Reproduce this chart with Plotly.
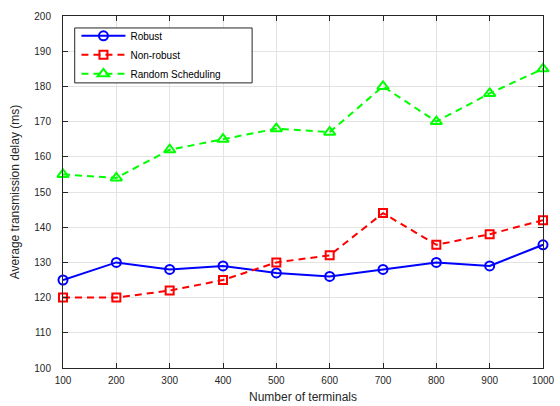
import plotly.graph_objects as go

terminals = [100, 200, 300, 400, 500, 600, 700, 800, 900, 1000]
robust = [125, 130, 128, 129, 127, 126, 128, 130, 129, 135]
non_robust = [120, 120, 122, 125, 130, 132, 144, 135, 138, 142]
random_sched = [155, 154, 162, 165, 168, 167, 180, 170, 178, 185]

FONT = "Liberation Sans, Arial, sans-serif"

fig = go.Figure()
fig.add_trace(go.Scatter(x=terminals, y=robust, name="Robust", mode="lines+markers", cliponaxis=False,
                         line=dict(color="#0000ff", width=2),
                         marker=dict(symbol="circle-open", size=9, color="#0000ff", line=dict(width=2))))
fig.add_trace(go.Scatter(x=terminals, y=non_robust, name="Non-robust", mode="lines+markers", cliponaxis=False,
                         line=dict(color="#ff0000", width=2, dash="7px,5px"),
                         marker=dict(symbol="square-open", size=8, color="#ff0000", line=dict(width=2))))
fig.add_trace(go.Scatter(x=terminals, y=random_sched, name="Random Scheduling", mode="lines+markers", cliponaxis=False,
                         line=dict(color="#00ff00", width=2, dash="7px,5px"),
                         marker=dict(symbol="triangle-up-open", size=10, color="#00ff00", line=dict(width=2))))

axis_common = dict(showline=True, linecolor="#262626", linewidth=1, mirror="ticks",
                   ticks="inside", ticklen=5, tickcolor="#262626",
                   showgrid=True, gridcolor="#e3e3e3", gridwidth=1, zeroline=False,
                   ticklabeloverflow="allow",
                   tickfont=dict(family=FONT, size=10, color="#262626"))

fig.add_shape(type="rect", xref="paper", yref="paper",
              x0=0.0244, x1=0.394, y0=0.81, y1=0.966,
              line=dict(color="#262626", width=1), fillcolor="white", layer="above")

fig.update_layout(
    width=560, height=406,
    margin=dict(l=63, r=5, t=16, b=38),
    paper_bgcolor="white", plot_bgcolor="white",
    font=dict(family=FONT, size=10, color="#262626"),
    xaxis=dict(range=[100, 1000], tickmode="array", tickvals=terminals, ticklabelstandoff=3,
               title=dict(text="Number of terminals", standoff=7, font=dict(size=12)), **axis_common),
    yaxis=dict(range=[100, 200], tickmode="linear", tick0=100, dtick=10, ticklabelstandoff=9,
               title=dict(text="Average transmission delay (ms)", standoff=12, font=dict(size=12)), **axis_common),
    legend=dict(x=0.028, y=0.985, xanchor="left", yanchor="top",
                bgcolor="rgba(0,0,0,0)", borderwidth=0,
                font=dict(size=10, color="black"), tracegroupgap=0, itemwidth=44),
    showlegend=True,
)

fig.write_html("out.html", config={"displayModeBar": False},
               post_script="document.body.style.margin='0';")
